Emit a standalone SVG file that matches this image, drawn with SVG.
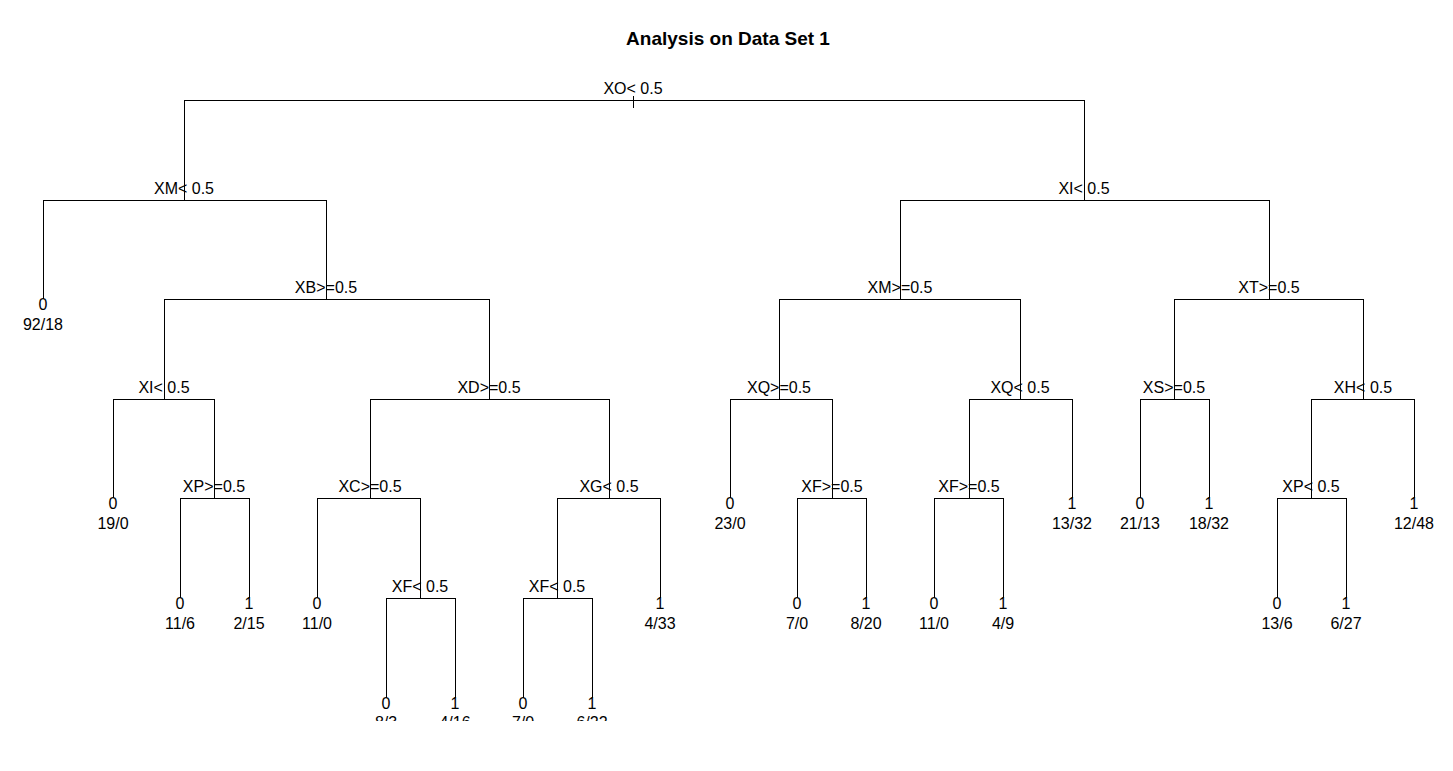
<svg xmlns="http://www.w3.org/2000/svg" width="1453" height="771" viewBox="0 0 1453 771">
<style>
text{font-family:"Liberation Sans",Arial,sans-serif;font-size:16px;fill:#000;text-anchor:middle}
.title{font-size:19px;font-weight:bold}
.edge{fill:none;stroke:#000;stroke-width:1;shape-rendering:crispEdges}
</style>
<defs><clipPath id="plot"><rect x="0" y="0" width="1453" height="721"/></clipPath></defs>
<rect width="1453" height="771" fill="#fff"/>
<text class="title" x="728" y="45">Analysis on Data Set 1</text>
<g clip-path="url(#plot)">
<g id="connectors" class="edge">
<path d="M633 96V108"/>
<path d="M184 200V100H1084V200"/>
<path d="M43 299V200H326V299"/>
<path d="M900 299V200H1269V299"/>
<path d="M164 399V299H489V399"/>
<path d="M779 399V299H1020V399"/>
<path d="M1174 399V299H1363V399"/>
<path d="M113 498V399H214V498"/>
<path d="M370 498V399H609V498"/>
<path d="M730 498V399H832V498"/>
<path d="M969 498V399H1072V498"/>
<path d="M1140 498V399H1209V498"/>
<path d="M1311 498V399H1414V498"/>
<path d="M180 598V498H249V598"/>
<path d="M317 598V498H420V598"/>
<path d="M557 598V498H660V598"/>
<path d="M797 598V498H866V598"/>
<path d="M934 598V498H1003V598"/>
<path d="M1277 598V498H1346V598"/>
<path d="M386 698V598H455V698"/>
<path d="M523 698V598H592V698"/>
</g>
<g id="n1"><text x="633" y="94">XO&lt; 0.5</text></g>
<g id="n2"><text x="184" y="194">XM&lt; 0.5</text></g>
<g id="n3"><text x="1084" y="194">XI&lt; 0.5</text></g>
<g id="n4"><text x="43" y="310">0</text><text x="43" y="330">92/18</text></g>
<g id="n5"><text x="326" y="293">XB&gt;=0.5</text></g>
<g id="n6"><text x="900" y="293">XM&gt;=0.5</text></g>
<g id="n7"><text x="1269" y="293">XT&gt;=0.5</text></g>
<g id="n10"><text x="164" y="393">XI&lt; 0.5</text></g>
<g id="n11"><text x="489" y="393">XD&gt;=0.5</text></g>
<g id="n12"><text x="779" y="393">XQ&gt;=0.5</text></g>
<g id="n13"><text x="1020" y="393">XQ&lt; 0.5</text></g>
<g id="n14"><text x="1174" y="393">XS&gt;=0.5</text></g>
<g id="n15"><text x="1363" y="393">XH&lt; 0.5</text></g>
<g id="n20"><text x="113" y="509">0</text><text x="113" y="529">19/0</text></g>
<g id="n21"><text x="214" y="492">XP&gt;=0.5</text></g>
<g id="n22"><text x="370" y="492">XC&gt;=0.5</text></g>
<g id="n23"><text x="609" y="492">XG&lt; 0.5</text></g>
<g id="n24"><text x="730" y="509">0</text><text x="730" y="529">23/0</text></g>
<g id="n25"><text x="832" y="492">XF&gt;=0.5</text></g>
<g id="n26"><text x="969" y="492">XF&gt;=0.5</text></g>
<g id="n27"><text x="1072" y="509">1</text><text x="1072" y="529">13/32</text></g>
<g id="n28"><text x="1140" y="509">0</text><text x="1140" y="529">21/13</text></g>
<g id="n29"><text x="1209" y="509">1</text><text x="1209" y="529">18/32</text></g>
<g id="n30"><text x="1311" y="492">XP&lt; 0.5</text></g>
<g id="n31"><text x="1414" y="509">1</text><text x="1414" y="529">12/48</text></g>
<g id="n42"><text x="180" y="609">0</text><text x="180" y="629">11/6</text></g>
<g id="n43"><text x="249" y="609">1</text><text x="249" y="629">2/15</text></g>
<g id="n44"><text x="317" y="609">0</text><text x="317" y="629">11/0</text></g>
<g id="n45"><text x="420" y="592">XF&lt; 0.5</text></g>
<g id="n46"><text x="557" y="592">XF&lt; 0.5</text></g>
<g id="n47"><text x="660" y="609">1</text><text x="660" y="629">4/33</text></g>
<g id="n50"><text x="797" y="609">0</text><text x="797" y="629">7/0</text></g>
<g id="n51"><text x="866" y="609">1</text><text x="866" y="629">8/20</text></g>
<g id="n52"><text x="934" y="609">0</text><text x="934" y="629">11/0</text></g>
<g id="n53"><text x="1003" y="609">1</text><text x="1003" y="629">4/9</text></g>
<g id="n60"><text x="1277" y="609">0</text><text x="1277" y="629">13/6</text></g>
<g id="n61"><text x="1346" y="609">1</text><text x="1346" y="629">6/27</text></g>
<g id="n90"><text x="386" y="709">0</text><text x="386" y="728">8/3</text></g>
<g id="n91"><text x="455" y="709">1</text><text x="455" y="728">4/16</text></g>
<g id="n92"><text x="523" y="709">0</text><text x="523" y="728">7/0</text></g>
<g id="n93"><text x="592" y="709">1</text><text x="592" y="728">6/22</text></g>
</g>
</svg>
